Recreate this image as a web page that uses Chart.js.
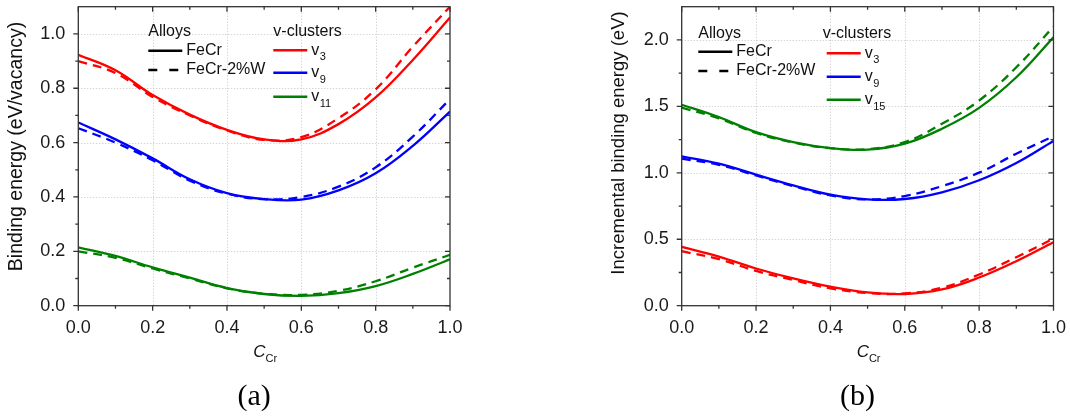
<!DOCTYPE html>
<html>
<head>
<meta charset="utf-8">
<script src="https://cdn.jsdelivr.net/npm/chart.js@4.4.1/dist/chart.umd.min.js"></script>
<style>
  html, body { margin: 0; padding: 0; background: #fff; overflow: hidden; }
  body { width: 1070px; height: 417px; position: relative; }
  canvas { position: absolute; top: -20px; }
  #chartA { left: 0; }
  #chartB { left: 540px; }
</style>
</head>
<body>
<canvas id="chartA" width="540" height="437"></canvas>
<canvas id="chartB" width="530" height="437"></canvas>
<script>
// Cr concentration (x axis, both panels)
const cCr = [0, 0.1, 0.2, 0.3, 0.4, 0.5, 0.6, 0.7, 0.8, 0.9, 1.0];

// (a) binding energy, eV/vacancy
const a_v3_FeCr  = [0.923, 0.866, 0.775, 0.703, 0.647, 0.612, 0.612, 0.668, 0.766, 0.904, 1.060];
const a_v3_FeCrW = [0.900, 0.856, 0.768, 0.700, 0.645, 0.610, 0.620, 0.690, 0.796, 0.953, 1.100];
const a_v9_FeCr  = [0.674, 0.612, 0.542, 0.465, 0.414, 0.392, 0.390, 0.424, 0.487, 0.588, 0.714];
const a_v9_FeCrW = [0.653, 0.600, 0.535, 0.460, 0.412, 0.392, 0.400, 0.438, 0.509, 0.622, 0.760];
const a_v11_FeCr  = [0.215, 0.183, 0.141, 0.103, 0.065, 0.043, 0.036, 0.046, 0.072, 0.117, 0.171];
const a_v11_FeCrW = [0.200, 0.176, 0.137, 0.100, 0.064, 0.044, 0.040, 0.055, 0.090, 0.140, 0.187];

// (b) incremental binding energy, eV
const b_v3_FeCr  = [0.443, 0.370, 0.280, 0.205, 0.143, 0.100, 0.088, 0.122, 0.212, 0.335, 0.478];
const b_v3_FeCrW = [0.410, 0.350, 0.262, 0.193, 0.131, 0.096, 0.092, 0.135, 0.235, 0.365, 0.505];
const b_v9_FeCr  = [1.124, 1.069, 0.986, 0.906, 0.836, 0.800, 0.803, 0.853, 0.944, 1.074, 1.240];
const b_v9_FeCrW = [1.106, 1.060, 0.980, 0.900, 0.830, 0.800, 0.825, 0.900, 1.001, 1.144, 1.275];
const b_v15_FeCr  = [1.512, 1.419, 1.306, 1.231, 1.186, 1.174, 1.219, 1.332, 1.489, 1.719, 2.020];
const b_v15_FeCrW = [1.490, 1.410, 1.300, 1.228, 1.185, 1.178, 1.231, 1.369, 1.544, 1.794, 2.100];

// ticks
const xTicks = [0, 0.2, 0.4, 0.6, 0.8, 1.0];
const xMinorTicks = [0.1, 0.3, 0.5, 0.7, 0.9];
const aYTicks = [0, 0.2, 0.4, 0.6, 0.8, 1.0];
const aYMinorTicks = [0.1, 0.3, 0.5, 0.7, 0.9];
const bYTicks = [0, 0.5, 1.0, 1.5, 2.0];
const bYMinorTicks = [0.25, 0.75, 1.25, 1.75];

// legend text
const alloys = ["FeCr", "FeCr-2%W"];
const aClusters = ["3", "9", "11"];
const bClusters = ["3", "9", "15"];

const RED = "#ff0000", BLUE = "#0000ff", GREEN = "#008000";
const FONT = "'Liberation Sans', Arial, sans-serif";
const SERIF = "'Liberation Serif', 'Times New Roman', serif";

function series(vals, color, dashed) {
  return {
    data: vals.map((v, i) => ({ x: cCr[i], y: v })),
    borderColor: color,
    borderWidth: 2.3,
    borderDash: dashed ? [9, 6] : [],
    pointRadius: 0,
    tension: 0.4,
    fill: false
  };
}

// grid, frame with ticks, legend and titles
function decoPlugin(d) {
  return {
    id: "deco",
    beforeDatasetsDraw(chart) {
      const { ctx, chartArea: a, scales: { x, y } } = chart;
      ctx.save();
      ctx.strokeStyle = "#c4c4c4";
      ctx.lineWidth = 1;
      ctx.setLineDash([1, 2]);
      ctx.beginPath();
      xTicks.slice(1, -1).forEach(v => {
        const p = Math.round(x.getPixelForValue(v)) + 0.5;
        ctx.moveTo(p, a.top); ctx.lineTo(p, a.bottom);
      });
      d.yTicks.slice(1).forEach(v => {
        const p = Math.round(y.getPixelForValue(v)) + 0.5;
        ctx.moveTo(a.left, p); ctx.lineTo(a.right, p);
      });
      ctx.stroke();
      ctx.restore();
    },
    afterDraw(chart) {
      const { ctx, chartArea: a, scales: { x, y } } = chart;
      ctx.save();
      ctx.strokeStyle = "#333";
      ctx.lineWidth = 1.3;
      ctx.setLineDash([]);
      ctx.strokeRect(a.left, a.top, a.right - a.left, a.bottom - a.top);

      ctx.beginPath();
      const xt = (v, len) => {
        const p = x.getPixelForValue(v);
        ctx.moveTo(p, a.bottom); ctx.lineTo(p, a.bottom + len);
        ctx.moveTo(p, a.top); ctx.lineTo(p, a.top + len);
      };
      const yt = (v, len) => {
        const p = y.getPixelForValue(v);
        ctx.moveTo(a.left, p); ctx.lineTo(a.left - len, p);
        ctx.moveTo(a.right, p); ctx.lineTo(a.right - len, p);
      };
      xTicks.forEach(v => xt(v, 5));
      xMinorTicks.forEach(v => xt(v, 3));
      d.yTicks.forEach(v => yt(v, 5));
      d.yMinor.forEach(v => yt(v, 3));
      ctx.stroke();

      // legend
      const L = d.legend;
      const lx = a.left + L.alloysX, ty = a.top + L.titleY;
      ctx.fillStyle = "#111";
      ctx.textBaseline = "middle";
      ctx.textAlign = "left";
      ctx.font = "16px " + FONT;
      ctx.fillText("Alloys", lx, ty);
      ctx.fillText("v-clusters", a.left + L.clusterTextX, ty);
      ctx.lineWidth = 2.4;
      alloys.forEach((name, i) => {
        const yy = a.top + L.alloyRows[i];
        ctx.strokeStyle = "#000";
        ctx.setLineDash(i ? [9, 12] : []);
        ctx.beginPath(); ctx.moveTo(lx, yy); ctx.lineTo(lx + 34, yy); ctx.stroke();
        ctx.fillText(name, lx + 38, yy);
      });
      ctx.setLineDash([]);
      const cols = [RED, BLUE, GREEN];
      d.clusters.forEach((n, i) => {
        const yy = a.top + L.clusterRows[i];
        const cx = a.left + L.clusterLineX;
        ctx.strokeStyle = cols[i];
        ctx.beginPath(); ctx.moveTo(cx, yy); ctx.lineTo(cx + 34, yy); ctx.stroke();
        ctx.font = "16px " + FONT;
        ctx.fillText("v", cx + 38, yy);
        ctx.font = "11px " + FONT;
        ctx.fillText(n, cx + 46.5, yy + 7);
      });

      // y title
      ctx.save();
      ctx.translate(d.yTitleX, d.yTitleY);
      ctx.rotate(-Math.PI / 2);
      ctx.textAlign = "center";
      ctx.font = d.yTitleSize + "px " + FONT;
      ctx.fillText(d.yTitle, 0, 0);
      ctx.restore();

      // x title: C with subscript Cr
      const mid = (a.left + a.right) / 2 + 1;
      ctx.font = "italic 17px " + FONT;
      const wC = ctx.measureText("C").width;
      ctx.font = "11px " + FONT;
      const wS = ctx.measureText("Cr").width;
      const x0 = mid - (wC + wS) / 2;
      ctx.font = "italic 17px " + FONT;
      ctx.fillText("C", x0, a.bottom + 47);
      ctx.font = "11px " + FONT;
      ctx.fillText("Cr", x0 + wC, a.bottom + 53.5);

      // panel label
      ctx.textAlign = "center";
      ctx.font = "30px " + SERIF;
      ctx.fillStyle = "#000";
      ctx.fillText(d.panel, mid - 11, a.bottom + 91);
      ctx.restore();
    }
  };
}

function makeChart(id, datasets, yMax, d) {
  const tickFont = { family: FONT, size: 18 };
  return new Chart(document.getElementById(id), {
    type: "line",
    data: { datasets },
    options: {
      responsive: false,
      animation: false,
      events: [],
      layout: { padding: d.padding },
      plugins: { legend: { display: false }, tooltip: { enabled: false } },
      scales: {
        x: {
          type: "linear", min: 0, max: 1,
          grid: { display: false }, border: { display: false },
          afterBuildTicks: s => { s.ticks = xTicks.map(v => ({ value: v })); },
          afterFit: s => { s.height = d.xHeight; },
          ticks: { callback: v => v.toFixed(1), color: "#1a1a1a", font: tickFont, padding: 4, maxRotation: 0, autoSkip: false }
        },
        y: {
          type: "linear", min: 0, max: yMax,
          grid: { display: false }, border: { display: false },
          afterBuildTicks: s => { s.ticks = d.yTicks.map(v => ({ value: v })); },
          afterFit: s => { s.width = d.yWidth; },
          ticks: { callback: v => v.toFixed(1), color: "#1a1a1a", font: tickFont, padding: 5, autoSkip: false }
        }
      }
    },
    plugins: [decoPlugin(d)]
  });
}

makeChart("chartA", [
  series(a_v3_FeCr, RED, false), series(a_v3_FeCrW, RED, true),
  series(a_v9_FeCr, BLUE, false), series(a_v9_FeCrW, BLUE, true),
  series(a_v11_FeCr, GREEN, false), series(a_v11_FeCrW, GREEN, true)
], 1.1, {
  padding: { top: 26.7, right: 90, left: 0, bottom: 0 },
  yWidth: 78.3, xHeight: 111.3,
  yTicks: aYTicks, yMinor: aYMinorTicks, clusters: aClusters,
  yTitle: "Binding energy (eV/vacancy)", yTitleX: 16.5, yTitleY: 166.5, yTitleSize: 19.5,
  panel: "(a)",
  legend: { alloysX: 70, titleY: 25, alloyRows: [44, 63.3], clusterTextX: 195, clusterLineX: 195, clusterRows: [43.5, 66, 90] }
});

makeChart("chartB", [
  series(b_v3_FeCr, RED, false), series(b_v3_FeCrW, RED, true),
  series(b_v9_FeCr, BLUE, false), series(b_v9_FeCrW, BLUE, true),
  series(b_v15_FeCr, GREEN, false), series(b_v15_FeCrW, GREEN, true)
], 2.25, {
  padding: { top: 26.7, right: 14.3, left: 0, bottom: 0 },
  yWidth: 141.7, xHeight: 111.3,
  yTicks: bYTicks, yMinor: bYMinorTicks, clusters: bClusters,
  yTitle: "Incremental binding energy (eV)", yTitleX: 78.8, yTitleY: 163, yTitleSize: 18.5,
  panel: "(b)",
  legend: { alloysX: 16.6, titleY: 26.6, alloyRows: [45, 64.3], clusterTextX: 141, clusterLineX: 145, clusterRows: [46.6, 70, 93] }
});
</script>
</body>
</html>
